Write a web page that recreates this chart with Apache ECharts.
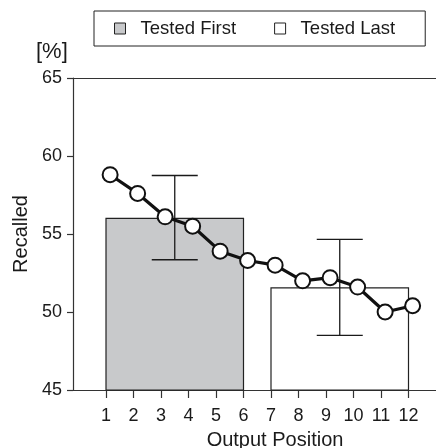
<!DOCTYPE html>
<html>
<head>
<meta charset="utf-8">
<script src="https://cdn.jsdelivr.net/npm/echarts@6/dist/echarts.min.js"></script>
<style>
  html, body { margin: 0; padding: 0; background: #fff; }
  #chart { width: 436px; height: 448px; }
</style>
</head>
<body>
<div id="chart"></div>
<script>
// output positions and mean recall per position
const positions = [1, 2, 3, 4, 5, 6, 7, 8, 9, 10, 11, 12];
const recalled = [58.8, 57.6, 56.1, 55.5, 53.9, 53.3, 53.0, 52.0, 52.2, 51.6, 50.0, 50.4];

// grouped bars: Tested First (1-6), Tested Last (7-12)
const groupNames = ['Tested First', 'Tested Last'];
const groupStart = [1, 7];
const groupEnd = [6, 12];
const groupMean = [56.0, 51.55];
const errCenter = [3.5, 9.5];
const errLow = [53.35, 48.5];
const errHigh = [58.75, 54.65];

const yTicks = [45, 50, 55, 60, 65];
const yMin = 45, yMax = 65;

const FONT = '"Liberation Sans", Arial, Helvetica, sans-serif';
const INK = '#1a1a1a';
const AXIS = '#333';
const groupFill = ['#c8c9cb', '#ffffff'];

const chart = echarts.init(document.getElementById('chart'));

function barItem(params, api) {
  const tl = api.coord([api.value(0), api.value(2)]);
  const br = api.coord([api.value(1), yMin]);
  return {
    type: 'rect',
    shape: { x: tl[0], y: tl[1], width: br[0] - tl[0], height: br[1] - tl[1] },
    style: api.style(),
  };
}

function errItem(params, api) {
  const top = api.coord([api.value(0), api.value(2)]);
  const bot = api.coord([api.value(0), api.value(1)]);
  const hw = 23;
  const st = { stroke: INK, lineWidth: 1.3 };
  return {
    type: 'group',
    children: [
      { type: 'line', shape: { x1: top[0], y1: top[1], x2: bot[0], y2: bot[1] }, style: st },
      { type: 'line', shape: { x1: top[0] - hw, y1: top[1], x2: top[0] + hw, y2: top[1] }, style: st },
      { type: 'line', shape: { x1: bot[0] - hw, y1: bot[1], x2: bot[0] + hw, y2: bot[1] }, style: st },
    ],
  };
}

chart.setOption({
  animation: false,
  textStyle: { fontFamily: FONT },
  grid: { left: 73, right: 0, top: 78, bottom: 58, outerBoundsMode: 'none' },
  legend: {
    left: 94, top: 11,
    padding: [8, 30, 8, 20],
    itemGap: 38, itemWidth: 11, itemHeight: 11,
    borderColor: '#222', borderWidth: 1,
    textStyle: { fontSize: 18.5, color: INK, fontFamily: FONT, padding: [0, 0, 0, 10] },
    data: groupNames.map((n, i) => ({
      name: n, icon: 'rect',
      itemStyle: { color: groupFill[i], borderColor: '#222', borderWidth: 1 },
    })),
  },
  graphic: [{
    type: 'text', left: 36, top: 41,
    style: { text: '[%]', fontSize: 22, fill: INK, fontFamily: FONT },
  }],
  xAxis: [{
    type: 'value', min: -0.2, max: 13,
    name: 'Output Position', nameLocation: 'middle', nameGap: 40,
    nameTextStyle: { fontSize: 20, color: INK, padding: [0, 0, 0, 41] },
    axisLine: { show: true, onZero: false, lineStyle: { color: AXIS, width: 1.2 } },
    axisTick: { show: true, length: 8, customValues: positions, lineStyle: { color: AXIS, width: 1.2 } },
    axisLabel: { customValues: positions, fontSize: 18, color: INK, margin: 17 },
    splitLine: { show: false },
  }, {
    // top frame line; also carries the line series slightly right-shifted as in the source
    type: 'value', position: 'top', min: -0.35, max: 12.85,
    axisLine: { show: true, onZero: false, lineStyle: { color: AXIS, width: 1.2 } },
    axisTick: { show: false }, axisLabel: { show: false }, splitLine: { show: false },
  }],
  yAxis: {
    type: 'value', min: yMin, max: yMax, interval: 5,
    name: 'Recalled', nameLocation: 'middle', nameGap: 25,
    nameTextStyle: { fontSize: 20, color: INK },
    axisLine: { show: true, onZero: false, lineStyle: { color: AXIS, width: 1.2 } },
    axisTick: { show: true, length: 6, lineStyle: { color: AXIS, width: 1.2 } },
    axisLabel: { fontSize: 18, color: INK, margin: 11, customValues: yTicks },
    splitLine: { show: false },
  },
  series: [
    ...groupNames.map((n, i) => ({
      name: n, type: 'custom', xAxisIndex: 0, z: 1,
      itemStyle: { color: groupFill[i], borderColor: '#222', borderWidth: 1.2 },
      renderItem: barItem,
      encode: { x: [0, 1], y: 2 },
      data: [[groupStart[i], groupEnd[i], groupMean[i]]],
    })),
    {
      type: 'custom', xAxisIndex: 0, z: 2,
      renderItem: errItem,
      encode: { x: 0, y: [1, 2] },
      data: errCenter.map((x, i) => [x, errLow[i], errHigh[i]]),
    },
    {
      type: 'line', xAxisIndex: 1, z: 5,
      data: positions.map((p, i) => [p, recalled[i]]),
      symbol: 'circle', symbolSize: 15,
      itemStyle: { color: '#fff', borderColor: '#111', borderWidth: 2 },
      lineStyle: { color: '#111', width: 3.2 },
    },
  ],
});
</script>
</body>
</html>
